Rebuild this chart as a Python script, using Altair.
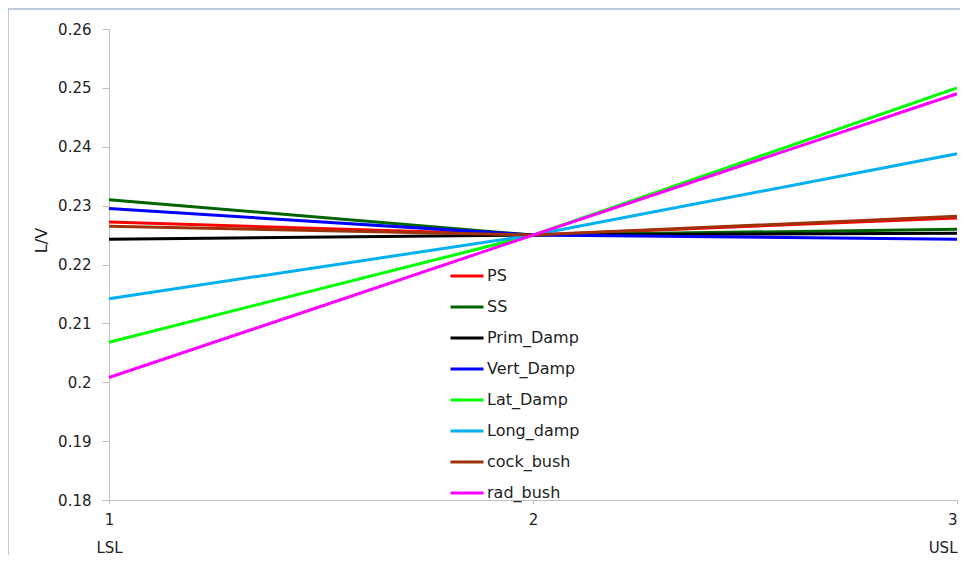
import altair as alt
import pandas as pd

series = ["PS", "SS", "Prim_Damp", "Vert_Damp", "Lat_Damp", "Long_damp", "cock_bush", "rad_bush"]
colors = ["#FF0000", "#006400", "#000000", "#0000FF", "#00FF00", "#00B0F0", "#A0320A", "#FF00FF"]
x_vals = [1, 2, 3]
lsl_vals = [0.2272, 0.2310, 0.2243, 0.2295, 0.2068, 0.2142, 0.2265, 0.2008]
mid_vals = [0.2250, 0.2250, 0.2250, 0.2250, 0.2250, 0.2250, 0.2250, 0.2250]
usl_vals = [0.2279, 0.2260, 0.2253, 0.2243, 0.2500, 0.2388, 0.2282, 0.2490]

rows = []
for i, s in enumerate(series):
    for xv, yv in zip(x_vals, [lsl_vals[i], mid_vals[i], usl_vals[i]]):
        rows.append({"series": s, "order": i, "x": xv, "y": yv})
df = pd.DataFrame(rows)

W, H = 848, 471
FONT = "DejaVu Sans"

border = alt.Chart(pd.DataFrame({"a": [0]})).mark_rect(
    fill=None, stroke="#A6B8D4", strokeWidth=1.5, clip=False
).encode(
    x=alt.value(-101), x2=alt.value(W + 60),
    y=alt.value(-20), y2=alt.value(H + 100)
)

lines = alt.Chart(df).mark_line(strokeWidth=3, clip=False).encode(
    x=alt.X("x:Q",
            scale=alt.Scale(domain=[1, 3], nice=False, zero=False),
            axis=alt.Axis(values=x_vals, title=None, grid=False,
                          labelExpr="datum.value == 1 ? ['1','LSL'] : datum.value == 3 ? ['3','USL'] : '' + datum.value",
                          labelAlign={"condition": {"test": "datum.value == 3", "value": "right"}, "value": "center"},
                          labelFontSize=15, labelColor="#222", labelFont=FONT,
                          labelLineHeight=28, labelPadding=8,
                          domainColor="#C0C0C0", tickColor="#C0C0C0", tickSize=4,
                          labelOverlap=False, labelFlush=False)),
    y=alt.Y("y:Q",
            scale=alt.Scale(domain=[0.18, 0.26], nice=False, zero=False),
            axis=alt.Axis(values=[0.18, 0.19, 0.2, 0.21, 0.22, 0.23, 0.24, 0.25, 0.26],
                          title="L/V", titleFontSize=16, titleFontWeight="normal",
                          titleColor="#222", titleFont=FONT,
                          titleX=-60, titleY=211,
                          labelExpr="datum.value == 0.2 ? '0.2' : format(datum.value, '.2f')",
                          grid=False, labelFontSize=15, labelColor="#222", labelFont=FONT,
                          domainColor="#C0C0C0", tickColor="#C0C0C0", tickSize=7,
                          labelPadding=11)),
    color=alt.Color("series:N",
                    scale=alt.Scale(domain=series, range=colors),
                    legend=alt.Legend(orient="none", legendX=340, legendY=229,
                                      title=None, symbolType="stroke",
                                      symbolStrokeWidth=3, symbolSize=1089,
                                      labelFontSize=16, labelFont=FONT, labelColor="#222",
                                      labelOffset=2, rowPadding=5, symbolOffset=0)),
    order=alt.Order("order:Q"),
    detail="series:N"
)

chart = alt.layer(border, lines).properties(
    width=W, height=H,
    autosize=alt.AutoSizeParams(type="none"),
    padding={"left": 101, "top": 21, "right": 3, "bottom": 55},
    background="white"
).configure_view(stroke=None)

chart.save("out.html", embed_options={"renderer": "svg", "actions": False})
